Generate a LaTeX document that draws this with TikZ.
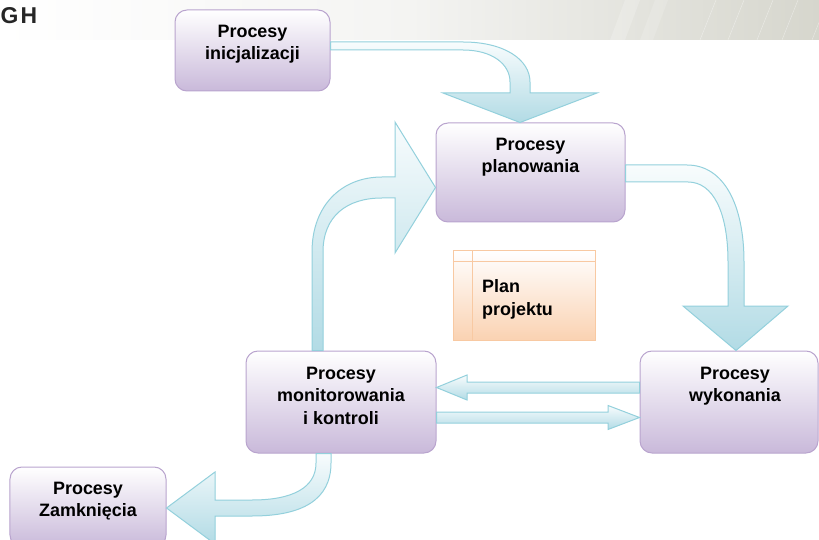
\documentclass[tikz,border=0pt]{standalone}
\usepackage{fontspec}
\setmainfont{Liberation Sans}
\usetikzlibrary{calc}
\definecolor{boxline}{HTML}{B9A4CE}
\definecolor{boxbot}{HTML}{C9B9DA}
\definecolor{arrline}{HTML}{93D0DC}
\definecolor{arrbot}{HTML}{B2DBE5}
\definecolor{arrtop}{HTML}{F8FCFD}
\definecolor{planline}{HTML}{F8C9A2}
\definecolor{planbot}{HTML}{FAD2B2}
\definecolor{bandgray}{HTML}{D6D6CD}
\definecolor{bandlight}{HTML}{F4F4F2}
\begin{document}
\begin{tikzpicture}[x=1bp,y=-1bp,
  procbox/.style={draw=boxline, line width=1bp, rounded corners=12bp, top color=white, bottom color=boxbot, inner sep=0pt},
  plantable/.style={draw=planline, line width=1bp, top color=white, bottom color=planbot, inner sep=0pt},
  ptext/.style={font=\bfseries\fontsize{18}{23}\selectfont, align=center, anchor=north, inner sep=0pt, text=black},
  blockarrow/.style={draw=arrline, line width=1bp, top color=arrtop, bottom color=arrbot, line join=miter}
]
\useasboundingbox (0,0) rectangle (819,540);
\clip (0,0) rectangle (819,540);

% header band
\shade[left color=white, right color=bandgray, middle color=bandlight] (0,0) rectangle (819,40);
\fill[white, opacity=0.2] (610,40) -- (625,0) -- (640,0) -- (625,40) -- cycle;
\fill[white, opacity=0.15] (640,40) -- (655,0) -- (668,0) -- (653,40) -- cycle;
\foreach \xx in {700,728,757,782,812}
  \draw[white, opacity=0.4, line width=0.5bp] (\xx,40) -- (\xx+16,0);
\node[anchor=west, inner sep=0pt, font=\bfseries\fontsize{23}{23}\selectfont, text=black!85] (gh) at (0.5,15.5) {G\kern2bp H};

% boxes
\node[procbox, minimum width=155bp, minimum height=81bp] (ini) at (252.5,50.5) {};
\node[procbox, minimum width=189bp, minimum height=99bp] (plan) at (530.5,172.5) {};
\node[procbox, minimum width=190bp, minimum height=102bp] (mon) at (341,402) {};
\node[procbox, minimum width=178bp, minimum height=102bp] (wyk) at (729,402) {};
\node[procbox, minimum width=156bp, minimum height=80bp] (zam) at (88,507) {};
\node[plantable, minimum width=142bp, minimum height=89bp] (pp) at (524,295.5) {};
\draw[planline, line width=1bp] (pp.north west |- 0,262) -- (pp.north east |- 0,262);
\draw[planline, line width=1bp] (pp.north west -| 472,0) -- (pp.south west -| 472,0);

% texts
\node[ptext] (tini) at (252.5,24.5) {Procesy\\inicjalizacji};
\node[ptext] (tplan) at (530.5,137.5) {Procesy\\planowania};
\node[ptext] (tmon) at (341,366.5) {Procesy\\monitorowania\\i kontroli};
\node[ptext] (twyk) at (735,366.5) {Procesy\\wykonania};
\node[ptext] (tzam) at (88,481.5) {Procesy\\Zamknięcia};
\node[ptext, align=left, anchor=north west] (tpp) at (482,279) {Plan\\projektu};

% block arrows
% inicjalizacja -> planowanie
\path[blockarrow] (ini.east |- 0,42) -- (463,42) .. controls (505,42) and (530,60) .. (530,82) -- (530,93) -- (597,93) -- (plan.north -| 520,0) -- (443,93) -- (510,93) -- (510,82) .. controls (510,64) and (492,50) .. (463,50) -- (ini.east |- 0,50) -- cycle;
% planowanie -> wykonanie
\path[blockarrow] (plan.east |- 0,165) -- (687,165) .. controls (724,165) and (744,205) .. (744,262) -- (744,306) -- (788,306) -- (wyk.north -| 736,0) -- (683,306) -- (728,306) -- (728,262) .. controls (728,212) and (713,182) .. (688,182) -- (plan.east |- 0,182) -- cycle;
% monitorowanie -> planowanie
\path[blockarrow] (mon.north -| 312,0) -- (312,252) .. controls (312,205) and (342,177) .. (382,177) -- (395,177) -- (395,122) -- (plan.west |- 0,187.5) -- (395,253) -- (395,198) -- (382,198) .. controls (347,198) and (323,216) .. (323,252) -- (mon.north -| 323,0) -- cycle;
% wykonanie -> monitorowanie
\path[blockarrow] (wyk.west |- 0,382) -- (467,382) -- (467,375) -- (mon.east |- 0,387.5) -- (467,400) -- (467,393) -- (wyk.west |- 0,393) -- cycle;
% monitorowanie -> wykonanie
\path[blockarrow] (mon.east |- 0,412) -- (608,412) -- (608,405.5) -- (wyk.west |- 0,417.5) -- (608,429.5) -- (608,423) -- (mon.east |- 0,423) -- cycle;
% monitorowanie -> zamkniecie
\path[blockarrow] (mon.south -| 316,0) -- (316,463) .. controls (316,488) and (292,500) .. (252,500) -- (215,500) -- (215,472) -- (zam.east |- 0,508) -- (215,544) -- (215,516) -- (252,516) .. controls (302,516) and (331,500) .. (331,463) -- (mon.south -| 331,0) -- cycle;
\end{tikzpicture}
\end{document}
